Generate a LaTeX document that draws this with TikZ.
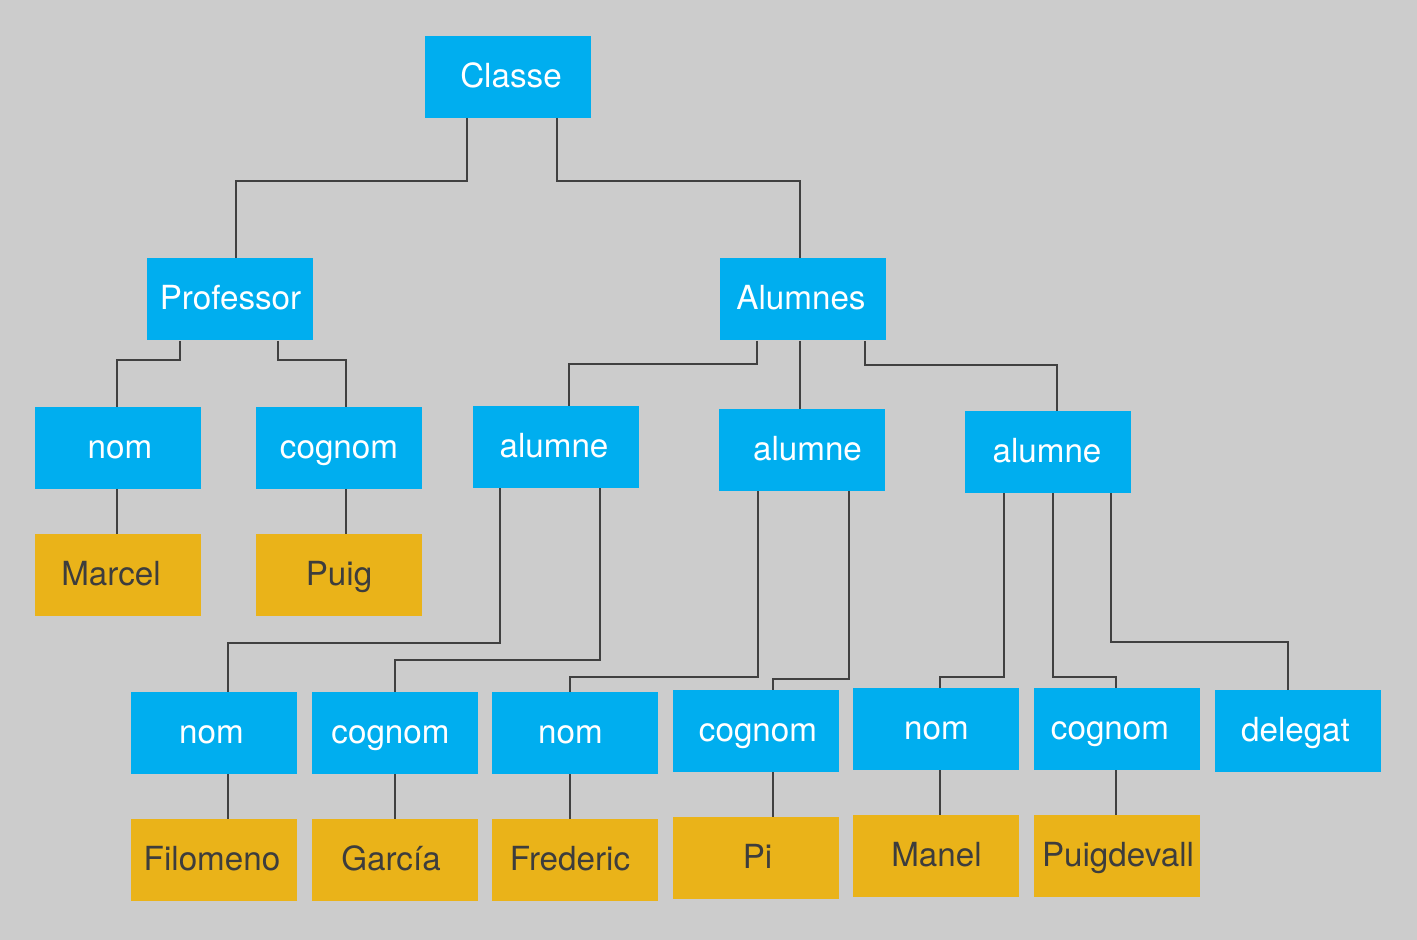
\documentclass[tikz,border=0pt]{standalone}
\usepackage{fontspec}
\setmainfont{TeX Gyre Heros}
\definecolor{bg}{HTML}{CCCCCC}
\definecolor{cblue}{HTML}{00AEEF}
\definecolor{cyel}{HTML}{EAB319}
\definecolor{cline}{HTML}{404040}
\definecolor{ctxt}{HTML}{3D3D3D}
\tikzset{
  bbox/.style={fill=cblue, draw=none, minimum width=83pt, minimum height=41pt, inner sep=0pt},
  ybox/.style={fill=cyel, draw=none, minimum width=83pt, minimum height=41pt, inner sep=0pt},
  wt/.style={text=white, anchor=base, inner sep=0pt, font=\fontsize{16.6}{19}\selectfont},
  dt/.style={text=ctxt, anchor=base, inner sep=0pt, font=\fontsize{16.6}{19}\selectfont},
  conn/.style={draw=cline, line width=1pt}
}
\begin{document}
\begin{tikzpicture}[x=0.5pt,y=-0.5pt]
\fill[bg] (0,0) rectangle (1417,940);
\useasboundingbox (0,0) rectangle (1417,940);
% boxes
\node[bbox] (classe) at (508,77) {};
\node[bbox] (prof) at (229.5,299.5) {};
\node[bbox] (alumnes) at (802.5,299.5) {};
\node[bbox] (nomP) at (118,448) {};
\node[bbox] (cognomP) at (339,448) {};
\node[ybox] (marcel) at (118,575) {};
\node[ybox] (puig) at (339,575) {};
\node[bbox] (al1) at (555.5,447) {};
\node[bbox] (al2) at (802,450) {};
\node[bbox] (al3) at (1048,452) {};
\node[bbox] (nom1) at (214,733) {};
\node[bbox] (cog1) at (394.5,733) {};
\node[bbox] (nom2) at (575,733) {};
\node[bbox] (cog2) at (755.5,731) {};
\node[bbox] (nom3) at (936,729) {};
\node[bbox] (cog3) at (1117,729) {};
\node[bbox] (delegat) at (1298,731) {};
\node[ybox] (filomeno) at (214,860) {};
\node[ybox] (garcia) at (394.5,860) {};
\node[ybox] (frederic) at (575,860) {};
\node[ybox] (pi) at (755.5,858) {};
\node[ybox] (manel) at (936,856) {};
\node[ybox] (puigdevall) at (1117,856) {};
% texts
\node[wt] (classe-t) at (511,87.5) {Classe};
\node[wt] (prof-t) at (230.5,310) {Professor};
\node[wt] (alumnes-t) at (801,310) {Alumnes};
\node[wt] (nomP-t) at (120,458.5) {nom};
\node[wt] (cognomP-t) at (339,458.5) {cognom};
\node[dt] (marcel-t) at (111,585.5) {Marcel};
\node[dt] (puig-t) at (339,585.5) {Puig};
\node[wt] (al1-t) at (554,457.5) {alumne};
\node[wt] (al2-t) at (807.5,460.5) {alumne};
\node[wt] (al3-t) at (1047,462.5) {alumne};
\node[wt] (nom1-t) at (211.5,743.5) {nom};
\node[wt] (cog1-t) at (390.5,743.5) {cognom};
\node[wt] (nom2-t) at (570.5,743.5) {nom};
\node[wt] (cog2-t) at (758,741.5) {cognom};
\node[wt] (nom3-t) at (936.5,739.5) {nom};
\node[wt] (cog3-t) at (1110,739.5) {cognom};
\node[wt] (delegat-t) at (1295.5,741.5) {delegat};
\node[dt] (filomeno-t) at (212,870.5) {Filomeno};
\node[dt] (garcia-t) at (391,870.5) {García};
\node[dt] (frederic-t) at (570,870.5) {Frederic};
\node[dt] (pi-t) at (757.5,868.5) {Pi};
\node[dt] (manel-t) at (936.5,866.5) {Manel};
\node[dt] (puigdevall-t) at (1118,866.5) {Puigdevall};
% connectors
\draw[conn] (classe.south -| 467,0) |- (236,181) -- (prof.north -| 236,0);
\draw[conn] (classe.south -| 557,0) |- (800,181) -- (alumnes.north -| 800,0);
\draw[conn] (prof.south -| 180,0) |- (117,360) -- (nomP.north -| 117,0);
\draw[conn] (prof.south -| 278,0) |- (346,360) -- (cognomP.north -| 346,0);
\draw[conn] (nomP.south -| 117,0) -- (marcel.north -| 117,0);
\draw[conn] (cognomP.south -| 346,0) -- (puig.north -| 346,0);
\draw[conn] (alumnes.south -| 757,0) |- (569,364) -- (al1.north -| 569,0);
\draw[conn] (alumnes.south -| 800,0) -- (al2.north -| 800,0);
\draw[conn] (alumnes.south -| 864.5,0) |- (1057,365) -- (al3.north -| 1057,0);
\draw[conn] (al1.south -| 500,0) |- (228,643) -- (nom1.north -| 228,0);
\draw[conn] (al1.south -| 600,0) |- (395,660) -- (cog1.north -| 395,0);
\draw[conn] (al2.south -| 758,0) |- (570,677) -- (nom2.north -| 570,0);
\draw[conn] (al2.south -| 849,0) |- (773,679) -- (cog2.north -| 773,0);
\draw[conn] (al3.south -| 1004,0) |- (940,677) -- (nom3.north -| 940,0);
\draw[conn] (al3.south -| 1053,0) |- (1116,677) -- (cog3.north -| 1116,0);
\draw[conn] (al3.south -| 1111,0) |- (1288,642) -- (delegat.north -| 1288,0);
\draw[conn] (nom1.south -| 228,0) -- (filomeno.north -| 228,0);
\draw[conn] (cog1.south -| 395,0) -- (garcia.north -| 395,0);
\draw[conn] (nom2.south -| 570,0) -- (frederic.north -| 570,0);
\draw[conn] (cog2.south -| 773,0) -- (pi.north -| 773,0);
\draw[conn] (nom3.south -| 940,0) -- (manel.north -| 940,0);
\draw[conn] (cog3.south -| 1116,0) -- (puigdevall.north -| 1116,0);
\end{tikzpicture}
\end{document}
